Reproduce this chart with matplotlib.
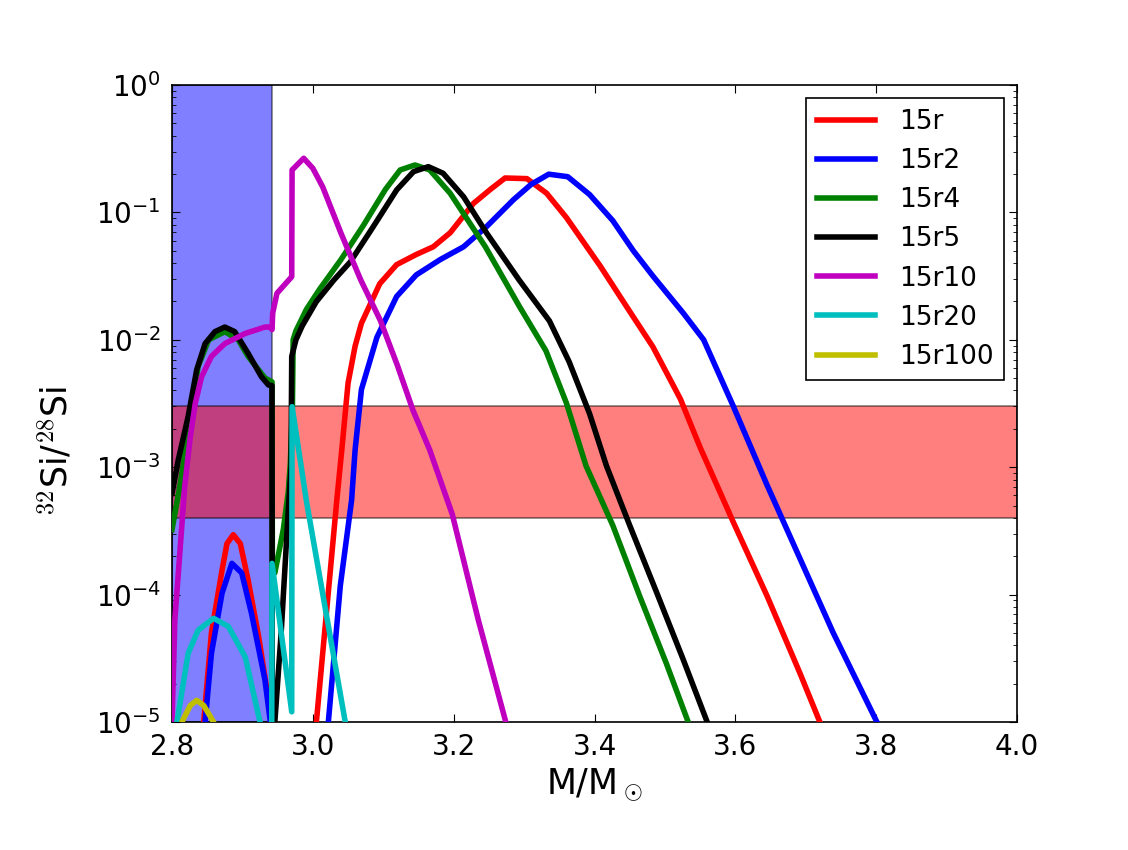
import numpy as np
import matplotlib
matplotlib.use("Agg")
import matplotlib.pyplot as plt

# values, stored as log10(32Si/28Si)
m_15r = [2.845, 2.856, 2.871, 2.878, 2.887, 2.897, 2.908, 2.923, 2.934, 2.942, 2.9425,
         3.000, 3.005, 3.020, 3.034, 3.041, 3.050, 3.060, 3.069, 3.095, 3.119,
         3.147, 3.171, 3.195, 3.228, 3.252, 3.273, 3.304, 3.332, 3.360, 3.408,
         3.445, 3.483, 3.522, 3.550, 3.597, 3.645, 3.692, 3.720, 3.730]
r_15r = [-5.0, -4.3, -3.81, -3.6, -3.53, -3.6, -3.885, -4.33, -4.72, -4.9, -6.0,
         -6.0, -5.0, -4.1, -3.26, -2.87, -2.34, -2.05, -1.87, -1.56, -1.41,
         -1.33, -1.27, -1.16, -0.93, -0.82, -0.73, -0.735, -0.85, -1.04, -1.42,
         -1.735, -2.056, -2.465, -2.845, -3.43, -4.01, -4.62, -5.0, -5.15]

m_15r2 = [2.847, 2.856, 2.871, 2.885, 2.899, 2.913, 2.932, 2.942, 2.9425,
          3.015, 3.022, 3.039, 3.055, 3.060, 3.069, 3.091, 3.119, 3.147, 3.181,
          3.214, 3.247, 3.285, 3.310, 3.335, 3.362, 3.393, 3.426, 3.455, 3.483,
          3.526, 3.555, 3.597, 3.645, 3.692, 3.739, 3.801, 3.810]
r_15r2 = [-5.0, -4.46, -3.99, -3.755, -3.83, -4.15, -4.67, -5.1, -6.0,
          -6.0, -5.0, -3.93, -3.26, -2.865, -2.39, -1.98, -1.66, -1.49, -1.37,
          -1.27, -1.11, -0.90, -0.78, -0.70, -0.72, -0.86, -1.065, -1.30, -1.50,
          -1.79, -2.0, -2.52, -3.14, -3.72, -4.30, -5.0, -5.1]

m_15r4 = [2.800, 2.811, 2.826, 2.837, 2.852, 2.875, 2.894, 2.908, 2.932, 2.942,
          2.9425, 2.946, 2.958, 2.965, 2.968, 2.971, 2.972, 2.976, 2.991,
          3.010, 3.040, 3.072, 3.103, 3.124, 3.145, 3.166, 3.195, 3.245, 3.293,
          3.331, 3.360, 3.388, 3.426, 3.464, 3.502, 3.533, 3.540]
r_15r4 = [-3.49, -3.15, -2.63, -2.21, -2.0, -1.936, -2.0, -2.13, -2.30, -2.33,
          -3.8, -3.83, -3.49, -3.2, -2.97, -2.52, -2.0, -1.93, -1.76,
          -1.60, -1.37, -1.10, -0.82, -0.667, -0.628, -0.667, -0.85, -1.27, -1.735,
          -2.086, -2.495, -2.99, -3.457, -4.01, -4.54, -5.0, -5.1]

m_15r5 = [2.800, 2.809, 2.823, 2.835, 2.847, 2.861, 2.875, 2.889, 2.908, 2.927,
          2.937, 2.942, 2.9425, 2.946, 2.955, 2.965, 2.969, 2.970, 2.976, 2.985, 3.005,
          3.030, 3.053, 3.086, 3.119, 3.143, 3.164, 3.185, 3.214, 3.247, 3.293,
          3.336, 3.364, 3.393, 3.417, 3.450, 3.488, 3.526, 3.560, 3.570]
r_15r5 = [-3.205, -2.94, -2.60, -2.237, -2.03, -1.936, -1.90, -1.936, -2.106, -2.29,
          -2.355, -2.36, -6.0, -5.0, -4.3, -3.35, -3.0, -2.13, -2.0, -1.89, -1.70,
          -1.53, -1.39, -1.11, -0.824, -0.68, -0.641, -0.693, -0.877, -1.164, -1.531,
          -1.852, -2.173, -2.58, -2.99, -3.457, -3.98, -4.51, -5.0, -5.15]

m_15r10 = [2.800, 2.804, 2.811, 2.818, 2.826, 2.833, 2.842, 2.856, 2.875, 2.904,
           2.932, 2.940, 2.942, 2.943, 2.949, 2.970, 2.9705, 2.987, 3.000, 3.014,
           3.040, 3.068, 3.096, 3.120, 3.142, 3.166, 3.198, 3.235, 3.274, 3.280]
r_15r10 = [-5.0, -4.2, -3.68, -3.15, -2.76, -2.5, -2.29, -2.13, -2.03, -1.95,
           -1.90, -1.90, -1.92, -1.79, -1.635, -1.505, -0.667, -0.575, -0.654, -0.80,
           -1.164, -1.53, -1.85, -2.2, -2.55, -2.865, -3.37, -4.2, -5.0, -5.1]

m_15r20 = [2.803, 2.807, 2.823, 2.837, 2.859, 2.880, 2.904, 2.925, 2.932, 2.9415,
           2.942, 2.970, 2.9705, 2.991, 3.046, 3.050]
r_15r20 = [-5.3, -5.0, -4.46, -4.28, -4.186, -4.25, -4.49, -5.0, -5.5, -5.5,
           -3.755, -4.92, -2.525, -3.27, -5.0, -5.1]

m_15r100 = [2.808, 2.814, 2.826, 2.835, 2.845, 2.859, 2.865]
r_15r100 = [-5.2, -5.0, -4.87, -4.83, -4.87, -5.0, -5.15]

series = [
    ("15r", m_15r, r_15r, "r"),
    ("15r2", m_15r2, r_15r2, "b"),
    ("15r4", m_15r4, r_15r4, "g"),
    ("15r5", m_15r5, r_15r5, "k"),
    ("15r10", m_15r10, r_15r10, "m"),
    ("15r20", m_15r20, r_15r20, "c"),
    ("15r100", m_15r100, r_15r100, "y"),
]

mass_cut = 2.942
obs_lo, obs_hi = 4e-4, 3e-3

plt.rcParams["mathtext.fontset"] = "cm"
plt.rcParams["xtick.direction"] = "in"
plt.rcParams["ytick.direction"] = "in"
plt.rcParams["xtick.top"] = True
plt.rcParams["ytick.right"] = True
plt.rcParams["xtick.major.size"] = 5.6
plt.rcParams["ytick.major.size"] = 5.6
plt.rcParams["xtick.minor.size"] = 2.8
plt.rcParams["ytick.minor.size"] = 2.8
plt.rcParams["xtick.major.pad"] = 8
plt.rcParams["ytick.major.pad"] = 8
plt.rcParams["axes.linewidth"] = 1.2

fig = plt.figure(figsize=(11.28, 8.5), dpi=100)
fig.subplots_adjust(left=0.1525, right=0.9016, bottom=0.1506, top=0.9)
ax = fig.add_subplot(111)

ax.axvspan(2.8, mass_cut, facecolor="b", edgecolor="k", alpha=0.5, lw=1.2, zorder=1)
ax.axhspan(obs_lo, obs_hi, facecolor="r", edgecolor="k", alpha=0.5, lw=1.2, zorder=1)

for name, m, r, c in series:
    ax.plot(m, 10.0**np.array(r), color=c, lw=4.0, label=name, zorder=3)

ax.set_yscale("log")
ax.set_xlim(2.8, 4.0)
ax.set_ylim(1e-5, 1.0)
ax.set_xticks([2.8, 3.0, 3.2, 3.4, 3.6, 3.8, 4.0])
ax.tick_params(labelsize=20)
ax.set_xlabel(r"M/M$_\odot$", fontsize=25)
ax.set_ylabel(r"$^{32}$Si/$^{28}$Si", fontsize=25)
ax.yaxis.set_label_coords(-0.115, 0.425)

leg = ax.legend(loc="upper right", fontsize=19, fancybox=False, framealpha=1.0,
                handlelength=2.2, handletextpad=0.9)
leg.get_frame().set_edgecolor("k")
leg.get_frame().set_linewidth(1.2)

fig.savefig("out.png", dpi=100, facecolor="white")
